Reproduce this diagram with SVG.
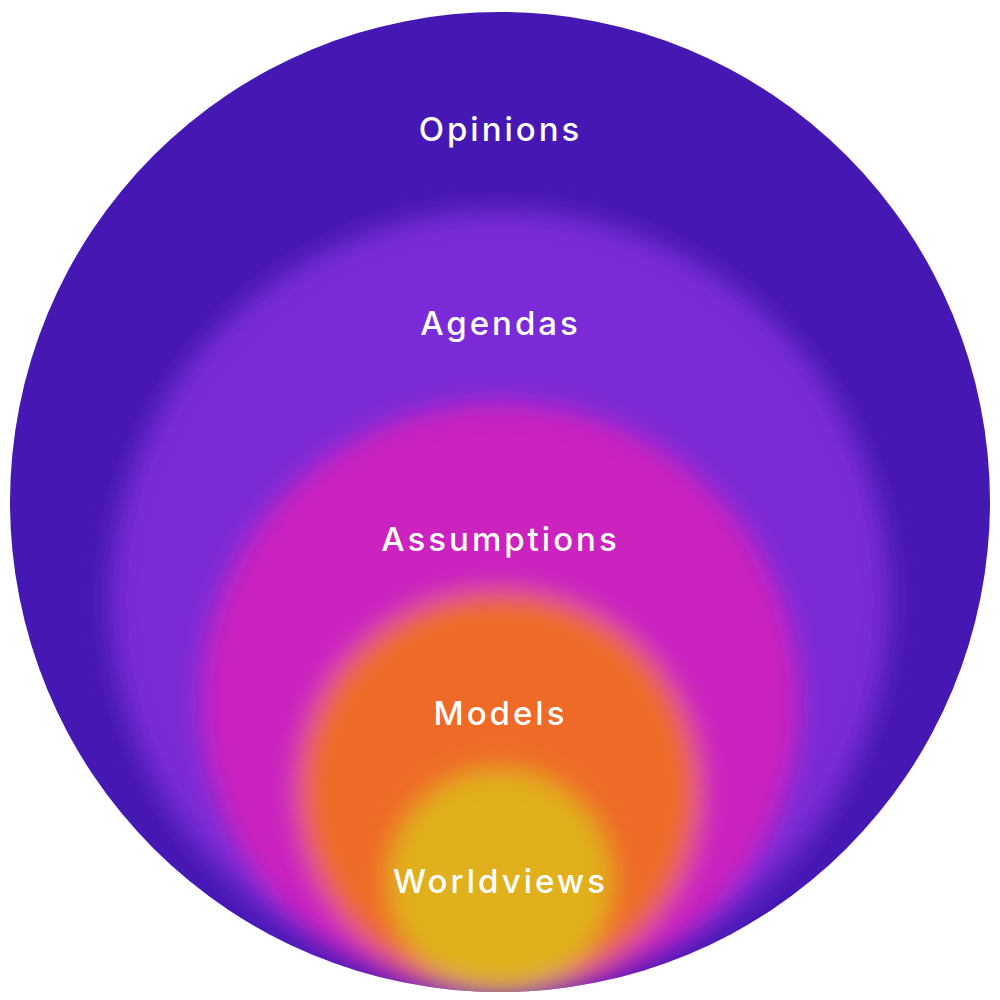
<svg xmlns="http://www.w3.org/2000/svg" width="1000" height="1000" viewBox="0 0 1000 1000">
<defs>
<clipPath id="outer"><circle cx="500" cy="502" r="490"/></clipPath>
<filter id="soft" x="-20%" y="-20%" width="140%" height="140%"><feGaussianBlur stdDeviation="13"/></filter>
<style>
.lbl{font-family:Inter,"Noto Sans","Liberation Sans",sans-serif;font-weight:500;font-size:33px;fill:#fff;text-anchor:middle;letter-spacing:3px}
</style>
</defs>
<rect width="1000" height="1000" fill="#fff"/>
<g clip-path="url(#outer)">
<circle cx="500" cy="502" r="500" fill="#4518B4"/>
<g filter="url(#soft)">
<g id="agendas"><circle cx="500" cy="600" r="390" fill="#7A2BD6"/></g>
<g id="assumptions"><circle cx="500" cy="702" r="297" fill="#CC24BF"/></g>
<g id="models"><circle cx="499" cy="792" r="200" fill="#EE6B28"/></g>
<g id="worldviews"><circle cx="500" cy="882" r="112" fill="#E0B11F"/></g>
</g>
</g>
<g id="connectors"/>
<g id="labels">
<text class="lbl" x="500.5" y="141">Opinions</text>
<text class="lbl" x="500.5" y="335">Agendas</text>
<text class="lbl" x="500.5" y="551">Assumptions</text>
<text class="lbl" x="500.5" y="725">Models</text>
<text class="lbl" x="500.5" y="893">Worldviews</text>
</g>
</svg>
